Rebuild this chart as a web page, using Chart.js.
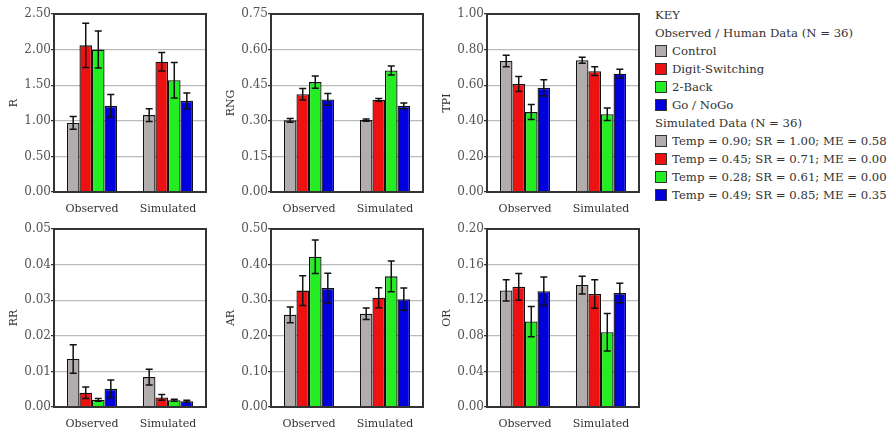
<!DOCTYPE html>
<html>
<head>
<meta charset="utf-8">
<script src="https://cdn.jsdelivr.net/npm/chart.js@4/dist/chart.umd.min.js"></script>
<style>
  body { margin: 0; background: #fff; width: 891px; height: 442px; position: relative; overflow: hidden; font-family: "DejaVu Serif", "Liberation Serif", serif; }
  canvas { position: absolute; }
  #key { position: absolute; left: 655px; top: 6px; font-size: 11.7px; color: #333; line-height: 18px; white-space: nowrap; }
  .sw { display: inline-block; width: 12px; height: 12px; border: 1px solid #333; vertical-align: -2px; margin-right: 5px; box-sizing: border-box; }
</style>
</head>
<body>
<div id="key"></div>
<canvas id="cR"></canvas>
<canvas id="cRNG"></canvas>
<canvas id="cTPI"></canvas>
<canvas id="cRR"></canvas>
<canvas id="cAR"></canvas>
<canvas id="cOR"></canvas>
<script>
// categories and conditions
const groups = ['Observed', 'Simulated'];
const conditions = ['Control', 'Digit-Switching', '2-Back', 'Go / NoGo'];
const colors = ['#b3acac', '#ee1111', '#22ee22', '#0000dd'];
const simParams = [
  'Temp = 0.90; SR = 1.00; ME = 0.58',
  'Temp = 0.45; SR = 0.71; ME = 0.00',
  'Temp = 0.28; SR = 0.61; ME = 0.00',
  'Temp = 0.49; SR = 0.85; ME = 0.35'
];

// means per condition: [observed, simulated]
const rMean   = [[0.97, 1.08], [2.06, 1.83], [2.00, 1.57], [1.21, 1.28]];
const rErr    = [[0.09, 0.09], [0.31, 0.13], [0.26, 0.25], [0.16, 0.11]];
const rngMean = [[0.302, 0.303], [0.412, 0.388], [0.463, 0.512], [0.390, 0.363]];
const rngErr  = [[0.008, 0.005], [0.024, 0.006], [0.026, 0.019], [0.025, 0.012]];
const tpiMean = [[0.736, 0.740], [0.607, 0.679], [0.449, 0.437], [0.585, 0.665]];
const tpiErr  = [[0.032, 0.017], [0.042, 0.025], [0.042, 0.035], [0.045, 0.024]];
const rrMean  = [[0.0135, 0.0084], [0.0040, 0.0027], [0.0020, 0.0019], [0.0051, 0.0016]];
const rrErr   = [[0.0040, 0.0022], [0.0016, 0.0008], [0.0004, 0.0003], [0.0025, 0.0003]];
const arMean  = [[0.259, 0.262], [0.327, 0.307], [0.422, 0.367], [0.334, 0.303]];
const arErr   = [[0.022, 0.016], [0.042, 0.028], [0.047, 0.043], [0.042, 0.031]];
const orMean  = [[0.131, 0.137], [0.135, 0.127], [0.096, 0.084], [0.130, 0.128]];
const orErr   = [[0.012, 0.010], [0.015, 0.016], [0.017, 0.021], [0.016, 0.011]];

// legend
const key = document.getElementById('key');
const row = (html) => { const d = document.createElement('div'); d.innerHTML = html; key.appendChild(d); };
row('KEY');
row('Observed / Human Data (N = 36)');
conditions.forEach((c, i) => row(`<span class="sw" style="background:${colors[i]}"></span>${c}`));
row('Simulated Data (N = 36)');
simParams.forEach((c, i) => row(`<span class="sw" style="background:${colors[i]}"></span>${c}`));

// frame + error bars
const errPlugin = {
  id: 'errbars',
  afterDatasetsDraw(chart) {
    const { ctx, chartArea: a } = chart;
    const ys = chart.scales.y;
    const errs = chart.options.plugins.errbars.errs;
    ctx.save();
    ctx.strokeStyle = '#111';
    ctx.lineWidth = 1.5;
    chart.data.datasets.forEach((ds, i) => {
      chart.getDatasetMeta(i).data.forEach((bar, j) => {
        const v = ds.data[j], e = errs[i][j];
        const yt = ys.getPixelForValue(v + e), yb = ys.getPixelForValue(Math.max(0, v - e));
        const x = bar.x, cap = 3.5;
        ctx.beginPath();
        ctx.moveTo(x, yt); ctx.lineTo(x, yb);
        ctx.moveTo(x - cap, yt); ctx.lineTo(x + cap, yt);
        ctx.moveTo(x - cap, yb); ctx.lineTo(x + cap, yb);
        ctx.stroke();
      });
    });
    ctx.strokeStyle = '#333';
    ctx.lineWidth = 2;
    ctx.strokeRect(a.left, a.top, a.right - a.left, a.bottom - a.top);
    ctx.restore();
  }
};

const fam = '"DejaVu Serif", "Liberation Serif", serif';

function panel(id, plotLeft, plotTop, title, max, step, means, errs) {
  const cv = document.getElementById(id);
  const padL = 54, padT = 14, plotW = 152, plotH = 178;
  cv.width = padL + plotW + 6;
  cv.height = padT + plotH + 30;
  cv.style.left = (plotLeft - padL) + 'px';
  cv.style.top = (plotTop - padT) + 'px';
  new Chart(cv, {
    type: 'bar',
    data: {
      labels: groups,
      datasets: conditions.map((c, i) => ({
        label: c, data: means[i], backgroundColor: colors[i],
        borderColor: '#111', borderWidth: 1.3,
        categoryPercentage: 0.66, barPercentage: 1
      }))
    },
    options: {
      responsive: false, animation: false,
      layout: { padding: { top: padT, right: 6 } },
      plugins: { legend: { display: false }, tooltip: { enabled: false }, errbars: { errs } },
      scales: {
        x: {
          grid: { display: false },
          border: { display: true, color: '#333', width: 2 },
          ticks: { font: { family: fam, size: 11 }, color: '#333', padding: 3 },
          afterFit: s => { s.height = 30; }
        },
        y: {
          min: 0, max: max,
          ticks: { stepSize: step, font: { family: fam, size: 12 }, color: '#555', padding: 0, callback: v => v.toFixed(2) },
          grid: { color: '#bbb', lineWidth: 1.2, tickLength: 3, tickColor: '#333' },
          border: { display: true, color: '#333', width: 2 },
          title: { display: true, text: title, font: { family: fam, size: 11 }, color: '#333', padding: { top: 8 } },
          afterFit: s => { s.width = padL; }
        }
      }
    },
    plugins: [errPlugin]
  });
}

panel('cR',   54, 14, 'R',   2.5,  0.5,  rMean,   rErr);
panel('cRNG', 271, 14, 'RNG', 0.75, 0.15, rngMean, rngErr);
panel('cTPI', 487, 14, 'TPI', 1.0,  0.2,  tpiMean, tpiErr);
panel('cRR',  54, 229, 'RR',  0.05, 0.01, rrMean,  rrErr);
panel('cAR',  271, 229, 'AR', 0.5,  0.1,  arMean,  arErr);
panel('cOR',  487, 229, 'OR', 0.2,  0.04, orMean,  orErr);
</script>
</body>
</html>
